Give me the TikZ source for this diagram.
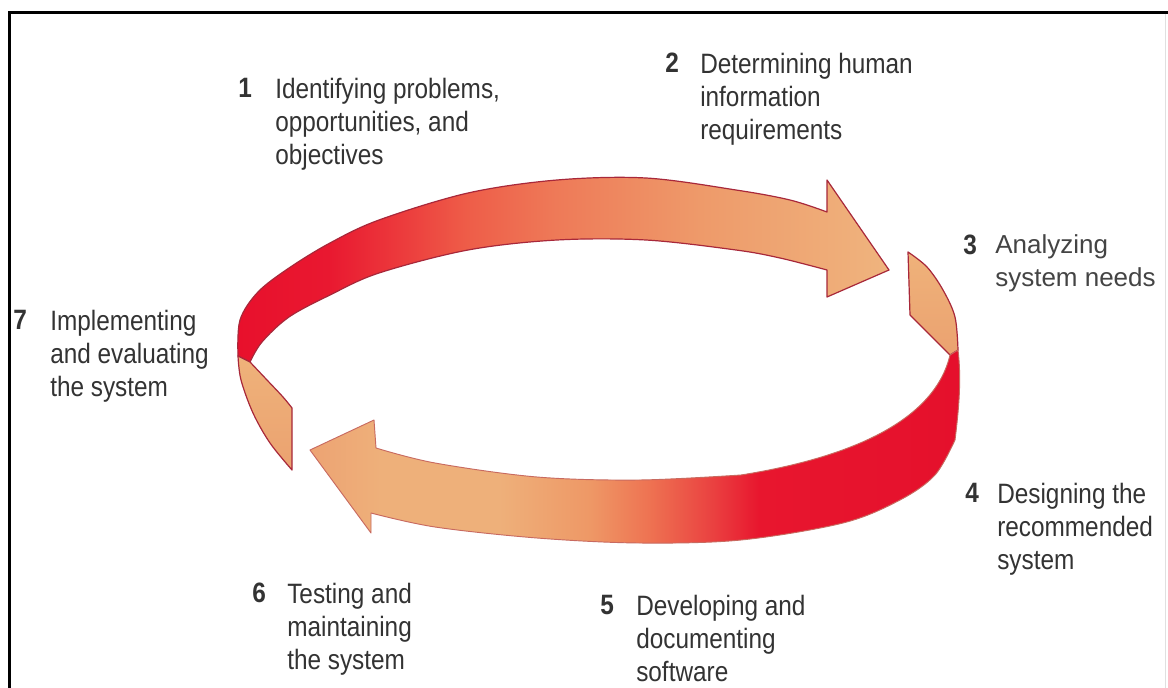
\documentclass[tikz,border=0pt]{standalone}
\usepackage{fontspec}
\setmainfont{Liberation Sans}
\newfontfamily\condfont{Liberation Sans}[FakeStretch=0.87]
\definecolor{ra}{HTML}{E8102C}
\definecolor{rb}{HTML}{E91830}
\definecolor{rc}{HTML}{EC3A3C}
\definecolor{rd}{HTML}{EE5C48}
\definecolor{re}{HTML}{EE7A58}
\definecolor{rf}{HTML}{EE9A6A}
\definecolor{rg}{HTML}{EFB47E}
\definecolor{la}{HTML}{EDA373}
\definecolor{lb}{HTML}{EEB07A}
\definecolor{lc}{HTML}{EE9866}
\definecolor{ld}{HTML}{EE7352}
\definecolor{le}{HTML}{EA4040}
\definecolor{lf}{HTML}{E8162E}
\definecolor{lg}{HTML}{E5102C}
\definecolor{peachtop}{HTML}{EFB27A}
\definecolor{peachbot}{HTML}{EBA270}
\definecolor{edgered}{HTML}{A8283A}
\definecolor{edgesoft}{HTML}{C86A60}
\definecolor{txtgray}{HTML}{333333}
\definecolor{txtlight}{HTML}{444444}
\pgfdeclarehorizontalshading{upperrib}{100bp}{color(0bp)=(ra); color(25bp)=(ra); color(32bp)=(rb); color(37.5bp)=(rc); color(42.5bp)=(rd); color(49.5bp)=(re); color(60.5bp)=(rf); color(75bp)=(rg); color(100bp)=(rg)}
\pgfdeclarehorizontalshading{lowerrib}{100bp}{color(0bp)=(la); color(25bp)=(la); color(30.5bp)=(lb); color(39.5bp)=(lb); color(46.5bp)=(lc); color(51bp)=(ld); color(56bp)=(le); color(59.5bp)=(lf); color(75bp)=(lg); color(100bp)=(lg)}
\begin{document}
\begin{tikzpicture}[x=0.75pt,y=-0.75pt,
  lbl/.style={anchor=north west, inner sep=0pt, align=left, text=txtgray,
    font=\condfont\fontsize{21}{25.1}\selectfont},
  lbllight/.style={anchor=north west, inner sep=0pt, align=left, text=txtlight,
    font=\fontsize{19.5}{24.8}\selectfont},
  num/.style={anchor=north west, inner sep=0pt, text=txtgray,
    font=\condfont\bfseries\fontsize{21}{25.1}\selectfont},
  ribbonedge/.style={draw=edgered, line width=0.9pt, line join=round},
  softedge/.style={draw=edgesoft, line width=0.7pt, line join=round}]
\useasboundingbox (0,0) rectangle (1168,688);
\fill[white] (0,0) rectangle (1168,688);
% frame
\draw[line width=2.25pt] (9.5,688) -- (9.5,12.5) -- (1168,12.5);
\draw[black!12, line width=0.75pt] (1165,14) -- (1165,688);

% upper ribbon arrow (back, inner face)
\shadedraw[shading=upperrib, ribbonedge]
  plot[smooth,tension=0.55] coordinates {(238,356) (240,320) (258,292) (289,268) (330,243) (379,220) (468,193) (557,180) (646,178) (736,190) (790,200) (827,212)}
  -- (827,180) -- (889,270) -- (827,297) -- (827,270)
  -- plot[smooth,tension=0.55] coordinates {(827,270) (780,258) (736,250) (646,240) (557,240) (468,250) (379,273) (330,295) (289,317) (262,342) (250,362)}
  -- cycle;

% right back piece
\shadedraw[top color=peachtop, bottom color=peachbot, ribbonedge]
  (908,252) -- (910,315) -- (950,355) -- (958,350)
  -- plot[smooth,tension=0.55] coordinates {(958,350) (955,317) (943,290) (927,267) (908,252)}
  -- cycle;

% left front piece
\shadedraw[top color=peachtop, bottom color=peachbot, ribbonedge]
  plot[smooth,tension=0.55] coordinates {(250,362) (267,380) (283,397) (292,408)}
  -- (292,470)
  -- plot[smooth,tension=0.55] coordinates {(292,470) (270,443) (253,413) (241,380) (238,356)}
  -- cycle;

% lower ribbon arrow (front, outer face)
\shadedraw[shading=lowerrib, softedge]
  (950,355) -- (958,350)
  .. controls (961,375) and (960,400) .. (955,440)
  -- plot[smooth,tension=0.55] coordinates {(955,440) (935,475) (900,500) (843,523) (741,540) (639,543) (537,538) (435,527) (371,513)}
  -- (371,533) -- (310,450) -- (374,420) -- (376,448)
  -- plot[smooth,tension=0.55] coordinates {(376,448) (435,463) (537,477) (639,480) (741,475)}
  .. controls (822,462) and (932,432) .. (950,355)
  -- cycle;

% labels
\node[num] (n1) at (238,77.5) {1};
\node[lbl] (t1) at (275,77.5) {Identifying problems,\\opportunities, and\\objectives};
\node[num] (n2) at (665,52.5) {2};
\node[lbl] (t2) at (700,52.5) {Determining human\\information\\requirements};
\node[num] (n3) at (963,234.5) {3};
\node[lbllight] (t3) at (995,234.5) {Analyzing\\system needs};
\node[num] (n7) at (13,309.5) {7};
\node[lbl] (t7) at (50,309.5) {Implementing\\and evaluating\\the system};
\node[num] (n4) at (965,482.5) {4};
\node[lbl] (t4) at (997,482.5) {Designing the\\recommended\\system};
\node[num] (n6) at (252,582.5) {6};
\node[lbl] (t6) at (287,582.5) {Testing and\\maintaining\\the system};
\node[num] (n5) at (600,594.5) {5};
\node[lbl] (t5) at (636,594.5) {Developing and\\documenting\\software};
\end{tikzpicture}
\end{document}
